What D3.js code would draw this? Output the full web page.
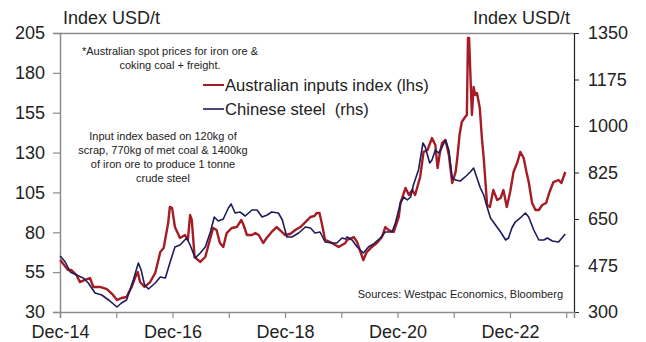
<!DOCTYPE html>
<html><head><meta charset="utf-8">
<script src="https://cdn.jsdelivr.net/npm/d3@7"></script>
<style>
html,body{margin:0;padding:0;background:#fff;}
svg{display:block;font-family:Arial,"Liberation Sans",sans-serif;}
text{white-space:pre;}
</style></head>
<body><svg id="c" width="646" height="342"></svg>
<script>
// ---- data (decimal years) ----
const redYears = [2014.92,2015.06,2015.12,2015.21,2015.27,2015.36,2015.45,2015.51,2015.63,2015.75,2015.86,2015.93,2016.01,2016.10,2016.19,2016.25,2016.30,2016.34,2016.42,2016.52,2016.61,2016.70,2016.76,2016.84,2016.87,2016.91,2016.96,2017.05,2017.14,2017.19,2017.23,2017.26,2017.31,2017.41,2017.50,2017.59,2017.64,2017.70,2017.76,2017.82,2017.88,2017.97,2018.06,2018.14,2018.18,2018.24,2018.33,2018.39,2018.45,2018.53,2018.59,2018.68,2018.77,2018.86,2018.92,2019.01,2019.10,2019.19,2019.28,2019.37,2019.44,2019.48,2019.53,2019.57,2019.63,2019.72,2019.81,2019.87,2019.99,2020.02,2020.14,2020.20,2020.26,2020.31,2020.37,2020.46,2020.55,2020.64,2020.70,2020.76,2020.85,2020.94,2020.97,2021.06,2021.12,2021.18,2021.23,2021.32,2021.38,2021.45,2021.53,2021.59,2021.63,2021.67,2021.71,2021.77,2021.83,2021.89,2021.95,2021.98,2022.02,2022.06,2022.12,2022.15,2022.17,2022.19,2022.22,2022.24,2022.27,2022.30,2022.33,2022.38,2022.42,2022.45,2022.51,2022.56,2022.62,2022.69,2022.75,2022.80,2022.86,2022.92,2022.98,2023.05,2023.10,2023.16,2023.21,2023.25,2023.31,2023.37,2023.43,2023.49,2023.56,2023.62,2023.69,2023.78,2023.83,2023.90];
const redValues = [62.6,56.3,56.3,53.2,48.8,50.1,51.3,45.7,45.7,44.4,40.7,37.5,38.8,39.4,45.7,51.3,55.1,48.8,45.7,48.8,54.5,67.6,70.1,85.8,95.9,95.2,83.3,76.4,78.3,75.2,90.8,87.7,64.5,61.4,64.5,76.4,82.7,81.4,73.3,70.8,79.5,82.7,83.3,87.7,84.6,78.3,78.3,79.5,78.3,73.3,76.4,80.2,83.3,80.2,78.3,78.9,81.4,83.3,86.4,89.6,90.2,92.1,92.1,85.8,75.2,73.9,72.0,70.8,73.3,75.2,77.0,73.9,67.6,62.6,67.6,70.8,73.3,77.0,83.3,81.4,80.2,89.6,98.4,107.8,103.4,106.5,103.4,114.7,130.4,131.6,139.1,134.7,120.3,129.7,136.0,137.9,128.5,110.9,117.8,126.6,141.0,149.2,152.3,153.6,201.9,201.9,172.4,153.6,171.1,166.1,167.4,157.9,137.9,126.6,97.1,95.9,106.5,100.2,101.5,106.5,95.9,105.3,117.8,124.1,130.4,126.6,117.8,111.5,98.4,94.0,94.0,97.1,98.4,105.3,111.5,112.8,110.9,117.8];

const blueYears = [2014.92,2015.01,2015.10,2015.21,2015.33,2015.42,2015.54,2015.66,2015.78,2015.93,2016.01,2016.10,2016.22,2016.31,2016.36,2016.42,2016.49,2016.61,2016.70,2016.79,2016.87,2016.96,2017.05,2017.17,2017.23,2017.32,2017.41,2017.50,2017.59,2017.66,2017.73,2017.82,2017.91,2017.96,2018.03,2018.12,2018.21,2018.33,2018.42,2018.51,2018.60,2018.68,2018.80,2018.87,2018.95,2019.04,2019.16,2019.28,2019.37,2019.45,2019.54,2019.63,2019.75,2019.84,2019.93,2019.99,2020.02,2020.11,2020.20,2020.31,2020.40,2020.49,2020.61,2020.70,2020.82,2020.88,2020.97,2021.03,2021.09,2021.15,2021.20,2021.29,2021.37,2021.41,2021.49,2021.53,2021.59,2021.65,2021.71,2021.77,2021.83,2021.89,2021.95,2022.03,2022.12,2022.21,2022.27,2022.33,2022.39,2022.45,2022.51,2022.57,2022.66,2022.75,2022.84,2022.89,2022.95,2023.01,2023.10,2023.19,2023.25,2023.34,2023.43,2023.52,2023.58,2023.67,2023.78,2023.84,2023.90];
const blueValues = [510.7,488.2,450.5,439.2,428.0,409.1,371.5,364.0,345.2,318.8,333.9,345.2,420.4,484.4,458.1,401.6,386.6,409.1,431.7,428.0,484.4,544.6,552.1,578.5,552.1,503.2,522.0,544.6,601.1,657.5,642.5,650.0,691.4,706.4,672.6,676.3,661.3,683.9,683.9,657.5,665.0,676.3,672.6,646.2,582.3,582.3,597.3,619.9,616.1,597.3,601.1,563.4,559.7,559.7,578.5,574.7,582.3,571.0,544.6,522.0,544.6,555.9,578.5,601.1,601.1,634.9,710.2,732.8,721.5,732.8,777.9,834.4,936.0,921.0,860.7,872.0,909.7,898.4,921.0,947.3,909.7,804.3,796.8,793.0,808.1,826.9,841.9,804.3,766.7,740.3,695.2,653.8,627.4,601.1,571.0,578.5,616.1,638.7,653.8,672.6,657.5,608.6,571.0,571.0,578.5,567.2,563.4,578.5,593.5];

const leftTicks = [30,55,80,105,130,155,180,205];
const rightTicks = [300,475,650,825,1000,1175,1350];
const xTickYears = [2014.917,2015.917,2016.917,2017.917,2018.917,2019.917,2020.917,2021.917,2022.917,2023.917];
const xTickLabels = ["Dec-14","","Dec-16","","Dec-18","","Dec-20","","Dec-22",""];
const seriesNames = ["Australian inputs index (lhs)","Chinese steel  (rhs)"];
const seriesColors = ["#A51C24","#1E1B5A"];

// ---- layout ----
const L=60, R=574, T=33, B=312;
const svg = d3.select("#c");
const x = d3.scaleLinear().domain([2014.917, 2024.055]).range([L,R]);
const yL = d3.scaleLinear().domain([30,205]).range([B,T]);
const yR = d3.scaleLinear().domain([300,1350]).range([B,T]);

// top border
svg.append("line").attr("x1",L).attr("x2",R).attr("y1",T+0.5).attr("y2",T+0.5).attr("stroke","#8c8c8c").attr("stroke-width",1.5);

// left axis
const gL = svg.append("g").attr("transform",`translate(${L},0)`)
  .call(d3.axisLeft(yL).tickValues(leftTicks).tickSize(7).tickPadding(8).tickFormat(d3.format("d")));
gL.select(".domain").attr("stroke","#8c8c8c").attr("stroke-width",1.5);
gL.selectAll(".tick line").attr("stroke","#8c8c8c").attr("stroke-width",1.2);
gL.selectAll("text").attr("font-size",18).attr("fill","#222").attr("font-family","Arial,'Liberation Sans',sans-serif");

// right axis
const gR = svg.append("g").attr("transform",`translate(${R},0)`)
  .call(d3.axisRight(yR).tickValues(rightTicks).tickSize(5).tickPadding(9).tickFormat(d3.format("d")));
gR.select(".domain").attr("stroke","#222").attr("stroke-width",1.2);
gR.selectAll(".tick line").attr("stroke","#222");
gR.selectAll("text").attr("font-size",18).attr("fill","#222").attr("font-family","Arial,'Liberation Sans',sans-serif");

// bottom axis
const gB = svg.append("g").attr("transform",`translate(0,${B})`)
  .call(d3.axisBottom(x).tickValues(xTickYears).tickSize(6).tickPadding(7).tickFormat((d,i)=>xTickLabels[i]));
gB.select(".domain").attr("stroke","#8c8c8c").attr("stroke-width",1.5);
gB.selectAll(".tick line").attr("stroke","#8c8c8c").attr("stroke-width",1.2);
gB.selectAll("text").attr("font-size",18).attr("fill","#222").attr("font-family","Arial,'Liberation Sans',sans-serif");

// axis titles
svg.append("text").attr("x",63).attr("y",24).attr("font-size",18).attr("fill","#222").text("Index USD/t");
svg.append("text").attr("x",570).attr("y",24).attr("text-anchor","end").attr("font-size",18).attr("fill","#222").text("Index USD/t");

// lines (red under blue)
const redData = redYears.map((t,i)=>[t,redValues[i]]);
const blueData = blueYears.map((t,i)=>[t,blueValues[i]]);
svg.append("path").datum(redData).attr("fill","none").attr("stroke",seriesColors[0]).attr("stroke-width",2.4).attr("stroke-linejoin","round")
  .attr("d",d3.line().x(d=>x(d[0])).y(d=>yL(d[1])));
svg.append("path").datum(blueData).attr("fill","none").attr("stroke",seriesColors[1]).attr("stroke-width",1.6).attr("stroke-linejoin","round")
  .attr("d",d3.line().x(d=>x(d[0])).y(d=>yR(d[1])));

// legend
const legY=[85,109];
seriesNames.forEach((n,i)=>{
  svg.append("line").attr("x1",203).attr("x2",224).attr("y1",legY[i]).attr("y2",legY[i]).attr("stroke",seriesColors[i]).attr("stroke-width",i?1.6:2);
  svg.append("text").attr("x",225).attr("y",legY[i]+6).attr("font-size",16.6).attr("fill","#222").text(n);
});

// notes
const note1 = ["*Australian spot prices for iron ore &","coking coal + freight."];
note1.forEach((s,i)=>svg.append("text").attr("x",170).attr("y",55+i*14).attr("text-anchor","middle").attr("font-size",11).attr("fill","#222").text(s));
const note2 = ["Input index based on 120kg of","scrap, 770kg of met coal & 1400kg","of iron ore to produce 1 tonne","crude steel"];
note2.forEach((s,i)=>svg.append("text").attr("x",163).attr("y",140+i*14).attr("text-anchor","middle").attr("font-size",11).attr("fill","#222").text(s));
svg.append("text").attr("x",563).attr("y",298).attr("text-anchor","end").attr("font-size",11).attr("fill","#222").text("Sources: Westpac Economics, Bloomberg");
</script></body></html>
